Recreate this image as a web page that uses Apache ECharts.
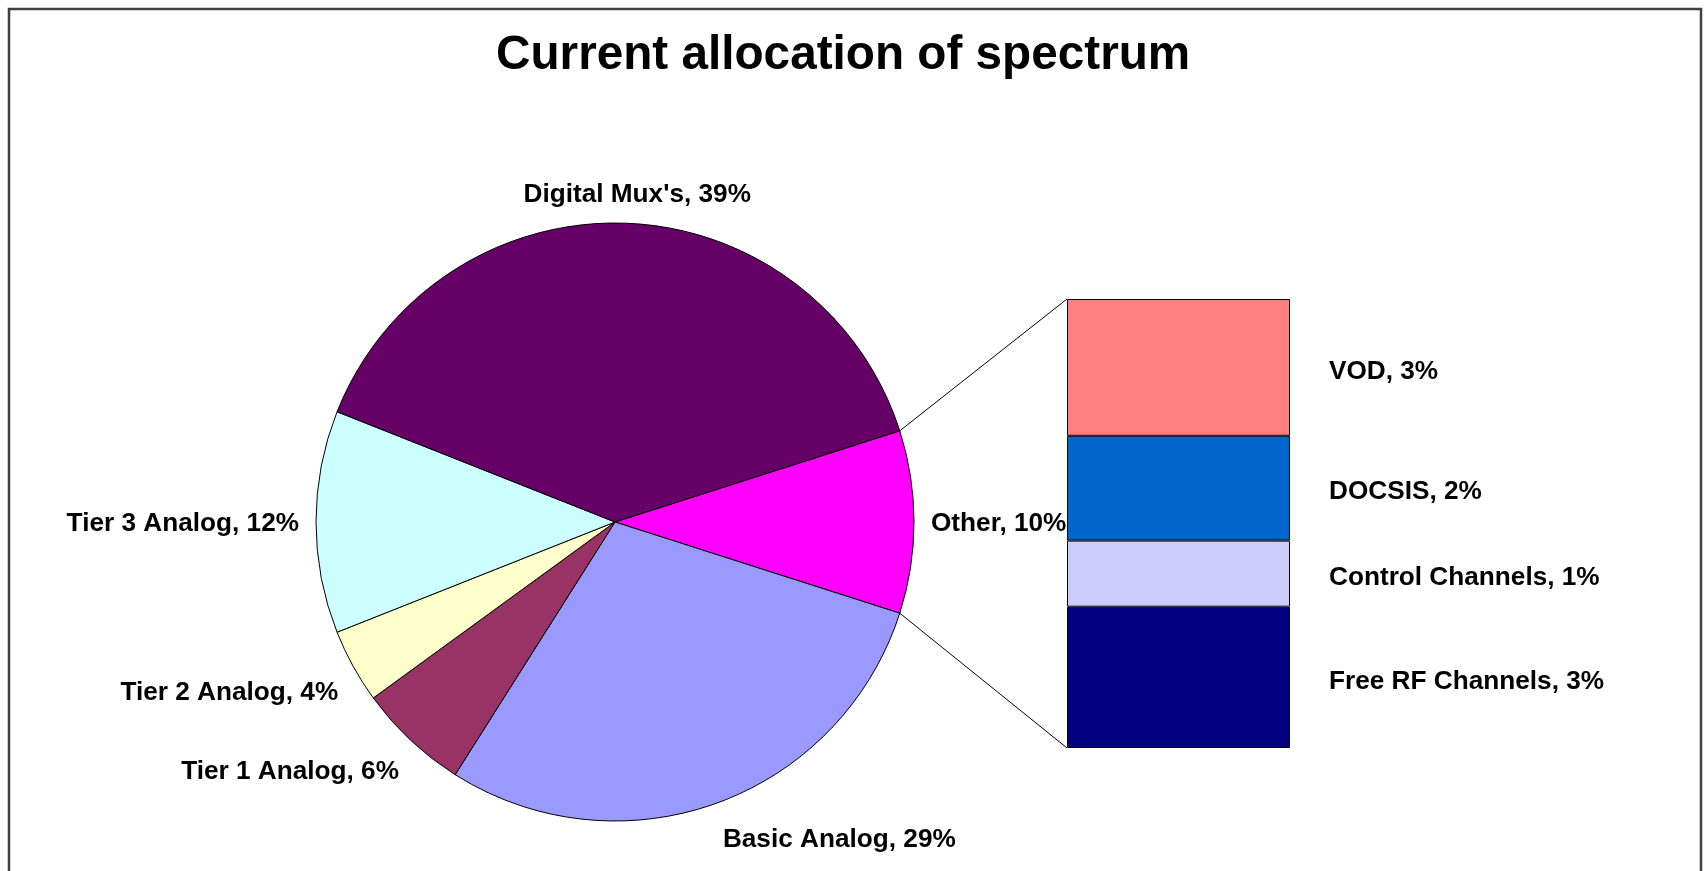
<!DOCTYPE html>
<html>
<head>
<meta charset="utf-8">
<title>Current allocation of spectrum</title>
<script src="https://cdn.jsdelivr.net/npm/echarts@6/dist/echarts.min.js"></script>
<style>
  html, body { margin: 0; padding: 0; background: #ffffff; }
  #chart { width: 1705px; height: 871px; }
</style>
</head>
<body>
<div id="chart"></div>
<script>
// Main pie slices (share of total spectrum, %)
const pieNames = ["Basic Analog", "Tier 1 Analog", "Tier 2 Analog", "Tier 3 Analog", "Digital Mux's"];
const pieValues = [29, 6, 4, 12, 39];
const pieColors = ["#9999FF", "#993366", "#FFFFCC", "#CCFFFF", "#660066"];

// Slice that is broken out into the stacked bar
const otherName = "Other";
const otherColor = "#FF00FF";

// Breakdown of "Other", listed top to bottom in the bar
const subNames = ["VOD", "DOCSIS", "Control Channels", "Free RF Channels"];
const subValues = [3.0, 2.3, 1.45, 3.1];
const subColors = ["#FF8080", "#0066CC", "#CCCCFF", "#000080"];

const titleText = "Current allocation of spectrum";

// ---- derived values ----
const otherValue = subValues.reduce((a, b) => a + b, 0);
const grandTotal = otherValue + pieValues.reduce((a, b) => a + b, 0);
const pct = v => Math.round(v / grandTotal * 100) + "%";

const FONT = "'Liberation Sans', Arial, sans-serif";
const labelFont = { fontFamily: FONT, fontWeight: "bold", fontSize: 26.2, color: "#000000" };

// pie geometry
const CX = 615, CY = 522, R = 299;
const LABEL_R = 316;

// "Other" is centred on the right-hand side
const halfOther = otherValue / grandTotal * 180;
const sliceVals = [otherValue].concat(pieValues);
const midAngles = [];
{
  let cum = 0;
  sliceVals.forEach(v => {
    midAngles.push(-halfOther + (cum + v / 2) / grandTotal * 360);
    cum += v;
  });
}

const pieData = [{ name: otherName, value: otherValue, itemStyle: { color: otherColor } }]
  .concat(pieNames.map((n, i) => ({ name: n, value: pieValues[i], itemStyle: { color: pieColors[i] } })));

// bar geometry
const BAR_LEFT = 1067, BAR_TOP = 299, BAR_W = 223, BAR_H = 449;

// stacked bar series, bottom segment first
const barSeries = [];
for (let i = subNames.length - 1; i >= 0; i--) {
  barSeries.push({
    type: "bar",
    name: subNames[i],
    stack: "other",
    barWidth: "100%",
    data: [subValues[i]],
    itemStyle: { color: subColors[i], borderColor: "#000000", borderWidth: 1 },
    label: {
      show: true,
      position: "right",
      distance: 39,
      offset: [0, 4],
      formatter: p => p.seriesName + ", " + pct(p.value),
      ...labelFont
    },
    emphasis: { disabled: true },
    silent: true
  });
}

const clamp = v => Math.max(-1, Math.min(1, v));

const chart = echarts.init(document.getElementById("chart"), null, { renderer: "canvas" });

const option = {
  animation: false,
  backgroundColor: "#ffffff",
  title: {
    text: titleText,
    left: 491,
    top: 27,
    textStyle: { fontFamily: FONT, fontWeight: "bold", fontSize: 47.7, color: "#000000" }
  },
  grid: { left: BAR_LEFT, top: BAR_TOP, width: BAR_W, height: BAR_H, containLabel: false },
  xAxis: { type: "category", data: [otherName], show: false },
  yAxis: { type: "value", min: 0, max: otherValue, show: false },
  series: [
    {
      type: "pie",
      center: [CX, CY],
      radius: R,
      startAngle: halfOther,
      clockwise: true,
      avoidLabelOverlap: false,
      silent: true,
      data: pieData,
      itemStyle: { borderColor: "#000000", borderWidth: 1 },
      emphasis: { disabled: true },
      label: {
        show: true,
        position: "outside",
        formatter: p => p.name + ", " + pct(p.value),
        ...labelFont
      },
      labelLine: { show: false },
      // place each label just outside the rim, on the side its slice faces
      labelLayout: function (params) {
        const a = midAngles[params.dataIndex] * Math.PI / 180;
        const ux = Math.cos(a), uy = Math.sin(a);
        const px = CX + LABEL_R * ux, py = CY + LABEL_R * uy;
        const w = params.labelRect.width, h = params.labelRect.height;
        return {
          x: px - w / 2 + (w / 2) * clamp(3 * ux),
          y: py - h / 2 + (h / 2) * clamp(3 * uy) + 2 + 6 * Math.max(uy, 0),
          align: "left",
          verticalAlign: "top"
        };
      }
    }
  ].concat(barSeries)
};

chart.setOption(option);

// connector lines from the edges of the "Other" slice to the bar's corners
const a = halfOther * Math.PI / 180;
const topPt = chart.convertToPixel({ gridIndex: 0 }, [0, otherValue]);
const botPt = chart.convertToPixel({ gridIndex: 0 }, [0, 0]);
chart.setOption({
  graphic: [
    {
      type: "rect",
      shape: { x: 9, y: 9, width: 1692, height: 1000 },
      style: { fill: "none", stroke: "#404040", lineWidth: 2.5 },
      silent: true
    },
    {
      type: "line",
      shape: { x1: CX + R * Math.cos(a), y1: CY - R * Math.sin(a), x2: BAR_LEFT, y2: topPt[1] },
      style: { stroke: "#000000", lineWidth: 1 },
      silent: true
    },
    {
      type: "line",
      shape: { x1: CX + R * Math.cos(a), y1: CY + R * Math.sin(a), x2: BAR_LEFT, y2: botPt[1] },
      style: { stroke: "#000000", lineWidth: 1 },
      silent: true
    }
  ]
});
</script>
</body>
</html>
